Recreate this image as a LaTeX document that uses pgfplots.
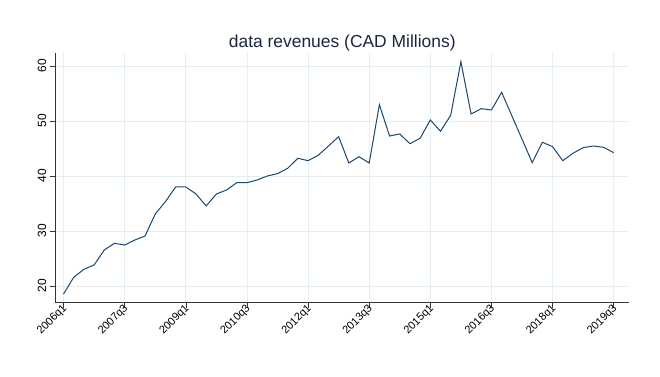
\documentclass[border=0pt]{standalone}
\usepackage{fontspec}
\setmainfont{Liberation Sans}
\usepackage{pgfplots}
\pgfplotsset{compat=1.18}
\definecolor{stline}{RGB}{26,71,111}
\definecolor{sttitle}{RGB}{28,38,62}
\definecolor{stgrid}{RGB}{228,239,240}
\begin{document}
\begin{tikzpicture}
\useasboundingbox (0,0) rectangle (660bp,377bp);
\begin{axis}[
  name=ax,
  at={(55.5bp,74.3bp)}, anchor=south west,
  scale only axis, width=573.5bp, height=249.7bp,
  xmin=-0.79, xmax=55.5, ymin=16.96, ymax=62.36,
  axis x line*=bottom, axis y line*=left,
  axis line style={-, draw=black!80, line width=0.7bp},
  xtick={0,6,12,18,24,30,36,42,48,54},
  xticklabels={2006q1,2007q3,2009q1,2010q3,2012q1,2013q3,2015q1,2016q3,2018q1,2019q3},
  ytick={20,30,40,50,60},
  tick align=outside, major tick length=5bp,
  tick style={draw=black!80, line width=0.6bp},
  grid=major,
  major grid style={draw=stgrid, line width=0.8bp},
  /pgf/number format/assume math mode=true,
  yticklabel style={xshift=-4bp, rotate=90, anchor=south, inner sep=0pt, font=\fontsize{12}{14}\selectfont},
  xticklabel style={xshift=2.5bp, yshift=1.5bp, rotate=45, anchor=east, inner sep=1pt, font=\fontsize{11}{13}\selectfont},
]
\addplot[draw=stline, line width=1bp, no marks] coordinates {
(0,18.55) (1,21.58) (2,23.04) (3,23.82) (4,26.55) (5,27.76) (6,27.45) (7,28.36) (8,29.09) (9,33.09)
(10,35.33) (11,38.0) (12,38.0) (13,36.73) (14,34.55) (15,36.73) (16,37.45) (17,38.78) (18,38.78) (19,39.27)
(20,40.0) (21,40.42) (22,41.4) (23,43.22) (24,42.78) (25,43.76) (26,45.45) (27,47.15) (28,42.36) (29,43.5)
(30,42.36) (31,52.96) (32,47.27) (33,47.64) (34,45.87) (35,46.85) (36,50.18) (37,48.13) (38,51.04) (39,60.78)
(40,51.27) (41,52.24) (42,52.0) (43,55.22) (44,50.95) (45,46.69) (46,42.42) (47,46.13) (48,45.33) (49,42.78)
(50,44.13) (51,45.15) (52,45.45) (53,45.22) (54,44.24)
};
\end{axis}
\node[anchor=base, text=sttitle, font=\fontsize{17.5}{20}\selectfont, inner sep=0pt] at ([yshift=5.5bp]ax.north) {data revenues (CAD Millions)};
\end{tikzpicture}
\end{document}
